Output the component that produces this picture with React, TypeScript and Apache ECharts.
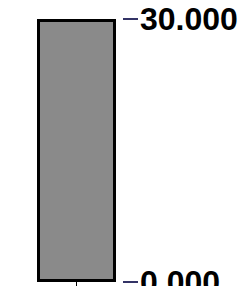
import React, { useEffect, useRef } from "react";
import * as echarts from "echarts";

const categories = ["A"];
const values = [30];
const axisMin = 0;
const axisMax = 30;

export default function App() {
  const ref = useRef<HTMLDivElement>(null);
  useEffect(() => {
    if (!ref.current) return;
    const chart = echarts.init(ref.current, undefined, { renderer: "svg" });
    chart.setOption({
      animation: false,
      backgroundColor: "#ffffff",
      grid: { left: 30, width: 93, top: 19, height: 263, containLabel: false, outerBoundsMode: "none" },
      xAxis: {
        type: "category",
        data: categories,
        axisLine: { show: false },
        axisTick: { show: true, alignWithLabel: true, length: 8, lineStyle: { color: "#000000", width: 1 } },
        axisLabel: { show: false },
        splitLine: { show: false },
      },
      yAxis: {
        type: "value",
        position: "right",
        min: axisMin,
        max: axisMax,
        interval: 30,
        axisLine: { show: false },
        axisTick: { show: true, length: 15, lineStyle: { color: "#333366", width: 2 } },
        axisLabel: {
          show: true,
          margin: 17,
          color: "#000000",
          fontSize: 32,
          fontWeight: "bold",
          fontFamily: "Liberation Sans, Arial, sans-serif",
          formatter: (v: number) => v.toFixed(3),
        },
        splitLine: { show: false },
      },
      series: [
        {
          type: "bar",
          data: values,
          barWidth: 79,
          itemStyle: { color: "#8a8a8a", borderColor: "#000000", borderWidth: 3 },
        },
      ],
    });
    return () => chart.dispose();
  }, []);
  return (
    <div
      ref={ref}
      style={{ position: "fixed", left: 0, top: 0, width: 245, height: 286 }}
    />
  );
}
